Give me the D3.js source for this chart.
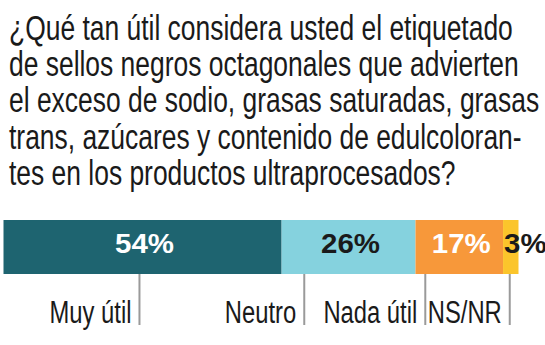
<!DOCTYPE html>
<html><head><meta charset="utf-8">
<script src="https://cdn.jsdelivr.net/npm/d3@7"></script>
<style>
html,body{margin:0;padding:0;background:#fff;}
svg{display:block;}
</style></head>
<body>
<script>
const titleLines = [
  "¿Qué tan útil considera usted el etiquetado",
  "de sellos negros octagonales que advierten",
  "el exceso de sodio, grasas saturadas, grasas",
  "trans, azúcares y contenido de edulcoloran-",
  "tes en los productos ultraprocesados?"
];
const categories = ["Muy útil", "Neutro", "Nada útil", "NS/NR"];
const values = [54, 26, 17, 3];
const labelAt = [26.4, 58.4, 81.9, 98.3];
const colors = ["#1e6470", "#85d2de", "#f7983a", "#fbc52b"];
const textColors = ["#ffffff", "#1a1a1a", "#ffffff", "#1a1a1a"];

const W = 545, H = 345;
const svg = d3.select("body").append("svg").attr("width", W).attr("height", H);
const font = "'Liberation Sans',Arial,sans-serif";

// Title
const tt = svg.append("g").selectAll("text").data(titleLines).join("text")
  .attr("x", 0).attr("y", 0)
  .attr("font-family", font).attr("font-size", 34.5).attr("fill", "#1a1a1a")
  .text(d => d);
const w0 = tt.nodes()[0].getComputedTextLength();
const kTitle = 504 / w0;
tt.attr("transform", (d, i) => `translate(9,${40 + i * 36.2}) scale(${kTitle},1)`);

const x = d3.scaleLinear().domain([0, 100]).range([3.5, 518.5]);
let cum = 0;
const segs = values.map((v, i) => { const s = {v, i, x0: cum, x1: cum + v}; cum += v; return s; });
const barY = 220, barH = 54;

svg.append("g").selectAll("rect").data(segs).join("rect")
  .attr("x", d => x(d.x0)).attr("width", d => x(d.x1) - x(d.x0))
  .attr("y", barY).attr("height", barH).attr("fill", d => colors[d.i]);

const pt = svg.append("g").selectAll("text").data(segs).join("text")
  .attr("x", 0).attr("y", 0)
  .attr("text-anchor", d => d.i === 3 ? "start" : "middle")
  .attr("font-family", font).attr("font-weight", "bold").attr("font-size", 28)
  .attr("fill", d => textColors[d.i])
  .text(d => d.v + "%");
const kPct = 59 / pt.nodes()[0].getComputedTextLength();
pt.attr("transform", d => `translate(${d.i === 3 ? x(d.x0) + 1 : x((d.x0 + d.x1) / 2) + 2},${barY + 33}) scale(${kPct},1)`);

const tg = svg.append("g").selectAll("g").data(categories).join("g");
tg.append("line")
  .attr("x1", (d, i) => x(labelAt[i])).attr("x2", (d, i) => x(labelAt[i]))
  .attr("y1", barY + barH).attr("y2", 325)
  .attr("stroke", "#9a9a9a").attr("stroke-width", 2);
const ct = tg.append("text")
  .attr("x", 0).attr("y", 0)
  .attr("text-anchor", "end")
  .attr("font-family", font).attr("font-size", 31.5).attr("fill", "#1a1a1a")
  .text(d => d);
const kCat = 82 / ct.nodes()[0].getComputedTextLength();
ct.attr("transform", (d, i) => `translate(${x(labelAt[i]) - 8},323) scale(${kCat},1)`);
</script>
</body></html>
